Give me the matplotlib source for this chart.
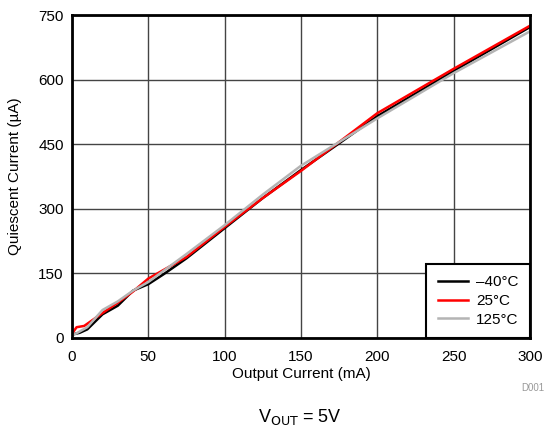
import matplotlib
matplotlib.use("Agg")
import matplotlib.pyplot as plt

plt.rcParams['font.family'] = ['Liberation Sans', 'DejaVu Sans']

# output current (mA) and quiescent current (uA) per temperature
x_m40 = [0, 5, 10, 20, 30, 40, 50, 60, 75, 100, 125, 150, 175, 200, 250, 300]
y_m40 = [8, 12, 20, 55, 75, 110, 125, 148, 185, 255, 325, 390, 452, 515, 620, 722]

x_25 = [0, 3, 8, 20, 30, 40, 50, 75, 100, 125, 150, 175, 200, 250, 300]
y_25 = [10, 25, 28, 58, 82, 108, 138, 188, 258, 325, 388, 455, 522, 625, 725]

x_125 = [0, 10, 20, 30, 40, 50, 75, 100, 125, 150, 175, 200, 250, 300]
y_125 = [5, 25, 65, 85, 110, 130, 195, 262, 333, 400, 455, 510, 615, 712]

xticks = [0, 50, 100, 150, 200, 250, 300]
yticks = [0, 150, 300, 450, 600, 750]

fig = plt.figure(figsize=(5.56, 4.3), dpi=100)
ax = fig.add_axes([0.1295, 0.214, 0.8235, 0.751])

ax.plot(x_m40, y_m40, color="black", lw=1.8, label="\u201340\u00b0C")
ax.plot(x_25, y_25, color="#ff0000", lw=1.8, label="25\u00b0C")
ax.plot(x_125, y_125, color="#b4b4b4", lw=1.8, label="125\u00b0C")

ax.set_xlim(0, 300)
ax.set_ylim(0, 750)
ax.set_xticks(xticks)
ax.set_yticks(yticks)
ax.grid(True, color="#444444", lw=1)
ax.set_axisbelow(True)
for s in ax.spines.values():
    s.set_linewidth(2)
ax.tick_params(length=0, labelsize=11)
ax.tick_params(axis="x", pad=9)
ax.tick_params(axis="y", pad=6)
ax.set_xlabel("Output Current (mA)", fontsize=11, labelpad=2)
ax.set_ylabel("Quiescent Current (\u00b5A)", fontsize=11, labelpad=12)

leg = ax.legend(loc="lower right", fontsize=11, fancybox=False, framealpha=1,
                borderaxespad=0, handlelength=2.0, labelspacing=0.3,
                borderpad=0.75, handletextpad=0.5)
leg.get_frame().set_edgecolor("black")
leg.get_frame().set_linewidth(1.5)

fig.text(0.958, 0.098, "D001", fontsize=7, color="#999999", ha="center", va="center")
fig.text(0.54, 0.03, "V$_{\\mathrm{OUT}}$ = 5V", fontsize=13, ha="center", va="center")

fig.savefig("out.png", dpi=100)
